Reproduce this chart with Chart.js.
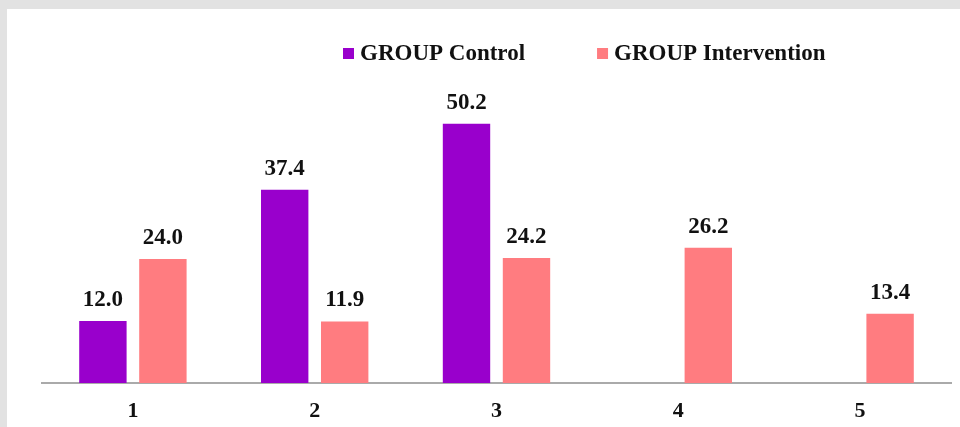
<!DOCTYPE html>
<html>
<head>
<meta charset="utf-8">
<script src="https://cdn.jsdelivr.net/npm/chart.js@4/dist/chart.umd.min.js"></script>
<style>
  html, body { margin: 0; padding: 0; background: #e2e2e2; }
  body { width: 960px; height: 427px; position: relative; overflow: hidden; }
  #panel { position: absolute; left: 7px; top: 9px; width: 953px; height: 418px; background: #fff; }
  #chart { display: block; }
</style>
</head>
<body>
<div id="panel"><canvas id="chart" width="953" height="418"></canvas></div>
<script>
// dane z wykresu
const categories = ['1', '2', '3', '4', '5']
const control = [12.0, 37.4, 50.2, null, null]
const intervention = [24.0, 11.9, 24.2, 26.2, 13.4]
const seriesNames = ['GROUP Control', 'GROUP Intervention']
const colors = ['#9900cc', '#ff7c80']

const serif = '"Liberation Serif", "Times New Roman", serif'

// etykiety wartości nad słupkami
const valueLabels = {
    id: 'valueLabels',
    afterDatasetsDraw(chart) {
        const ctx = chart.ctx
        ctx.save()
        ctx.font = 'bold 23px ' + serif
        ctx.fillStyle = '#111'
        ctx.textAlign = 'center'
        ctx.textBaseline = 'middle'
        chart.data.datasets.forEach((ds, i) => {
            chart.getDatasetMeta(i).data.forEach((bar, j) => {
                if (ds.data[j] == null) return
                ctx.fillText(ds.data[j].toFixed(1), bar.x, bar.y - 21)
            })
        })
        ctx.restore()
    }
}

// legenda rysowana ręcznie (mały kwadrat + tekst)
const topLegend = {
    id: 'topLegend',
    afterDraw(chart) {
        const ctx = chart.ctx
        ctx.save()
        ctx.font = 'bold 23px ' + serif
        ctx.textBaseline = 'middle'
        let x = 336
        const y = 44
        chart.data.datasets.forEach((ds) => {
            ctx.fillStyle = ds.backgroundColor
            ctx.fillRect(x, y - 5, 11, 11)
            ctx.fillStyle = '#111'
            ctx.textAlign = 'left'
            ctx.fillText(ds.label, x + 17, y + 1)
            x += 17 + ctx.measureText(ds.label).width + 72
        })
        ctx.restore()
    }
}

const data = {
    labels: categories,
    datasets: [
        { label: seriesNames[0], data: control, backgroundColor: colors[0] },
        { label: seriesNames[1], data: intervention, backgroundColor: colors[1] }
    ]
}

const config = {
    type: 'bar',
    data: data,
    options: {
        responsive: false,
        animation: false,
        layout: { padding: { top: 64, left: 35, right: 9, bottom: 4 } },
        datasets: {
            bar: { categoryPercentage: 0.66, barPercentage: 0.79 }
        },
        plugins: {
            legend: { display: false },
            tooltip: { enabled: false }
        },
        scales: {
            x: {
                grid: { display: false, drawTicks: false },
                border: { display: true, color: '#aaaaaa', width: 2 },
                ticks: {
                    color: '#111',
                    padding: 15,
                    font: { family: serif, size: 22, weight: 'bold' }
                },
                afterFit(scale) { scale.height = 40 }
            },
            y: {
                display: false,
                min: 0,
                max: 60
            }
        }
    },
    plugins: [valueLabels, topLegend]
}

new Chart(document.getElementById('chart'), config)
</script>
</body>
</html>
